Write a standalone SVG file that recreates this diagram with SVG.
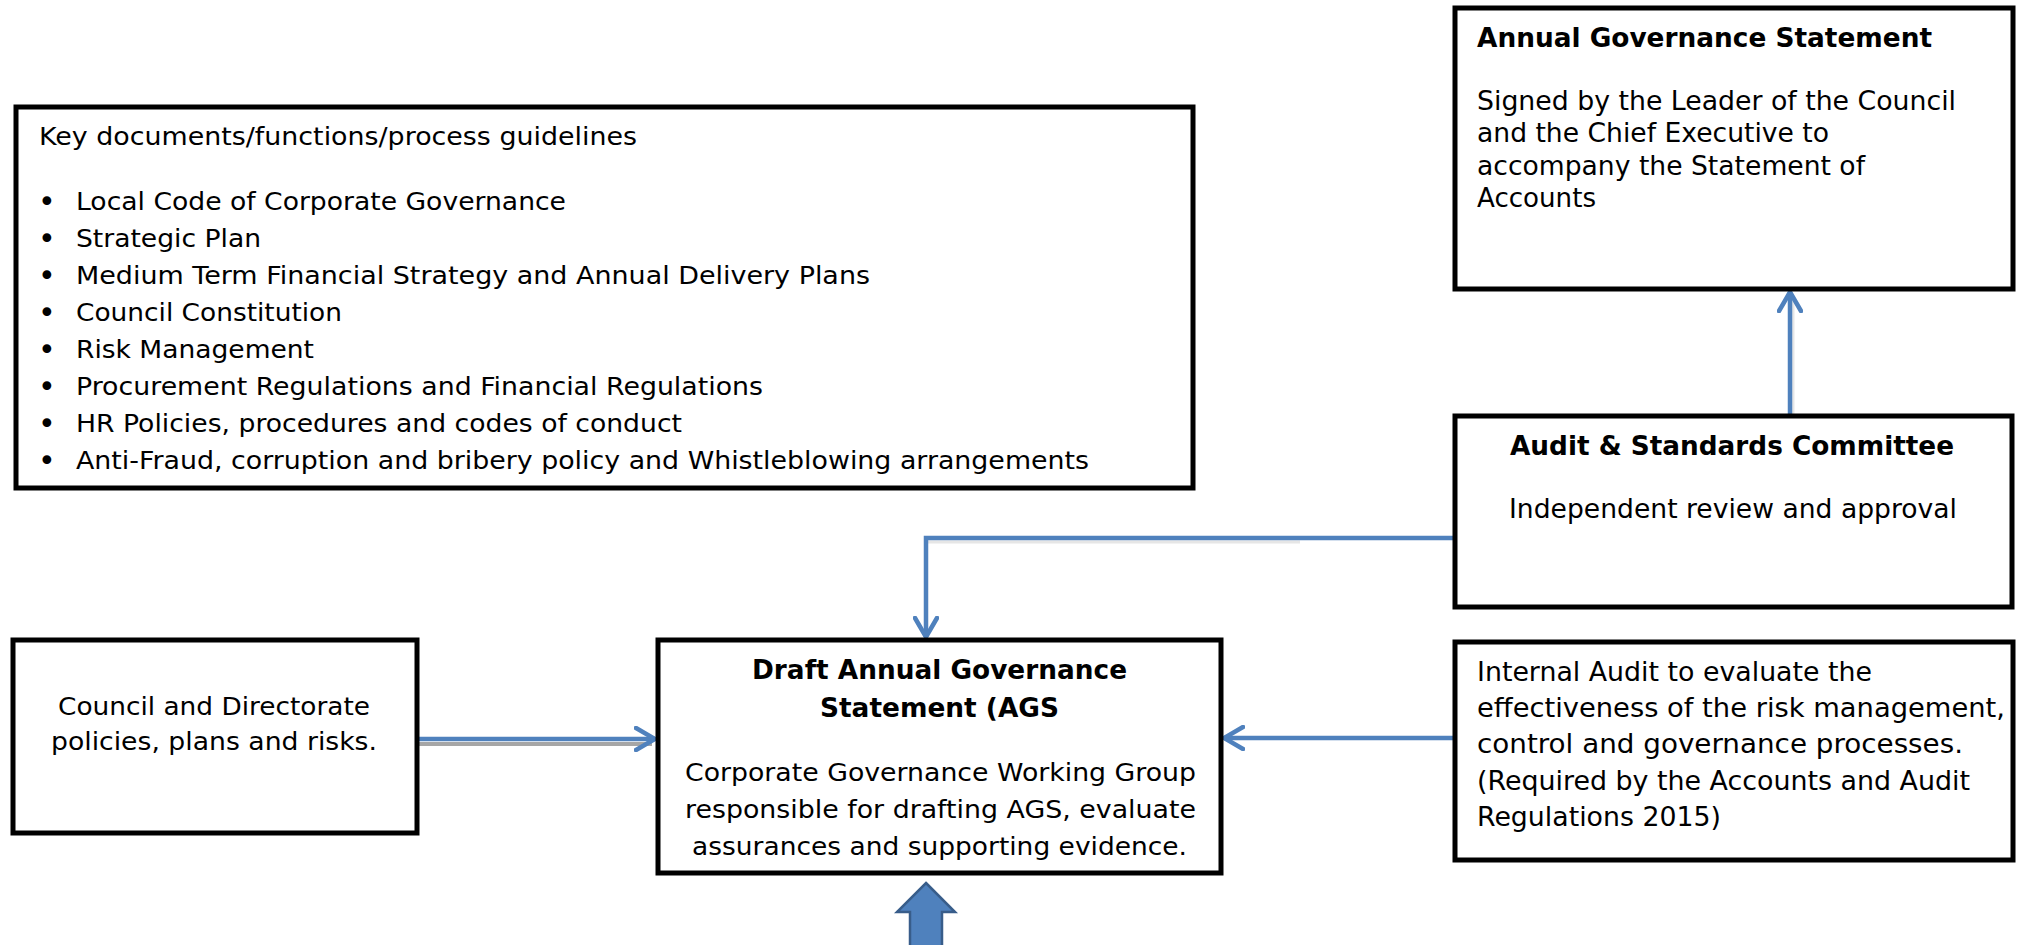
<svg xmlns="http://www.w3.org/2000/svg" width="2022" height="945" viewBox="0 0 2022 945">
<style>
.box{fill:#fff;stroke:#000;stroke-width:5}
.t{font-family:"DejaVu Sans","Liberation Sans",sans-serif;fill:#000}
.c{font-size:25px}
.r{font-size:26px}
.b{font-weight:bold}
.bul{font-size:30px}
.conn{fill:none;stroke:#4F81BD;stroke-width:4.5}
.shadow{fill:none;stroke:#A6A6A6;stroke-width:4}
.lshadow{fill:none;stroke:#E6E6E6;stroke-width:3}
</style>
<defs>
<marker id="chev" viewBox="0 0 24 26" refX="21" refY="13" markerWidth="24" markerHeight="26" markerUnits="userSpaceOnUse" orient="auto">
<path d="M2,2 L21,13 L2,24" fill="none" stroke="#4F81BD" stroke-width="4.5" stroke-linecap="round" stroke-linejoin="miter"/>
</marker>
</defs>
<rect width="2022" height="945" fill="#fff"/>

<g id="connectors">
<line class="lshadow" x1="1793" y1="414" x2="1793" y2="300"/>
<line class="lshadow" x1="928" y1="542" x2="1300" y2="542"/>
<line class="shadow" x1="417" y1="744" x2="652" y2="744"/>
<line class="conn" x1="1790" y1="414" x2="1790" y2="292" marker-end="url(#chev)"/>
<polyline class="conn" points="1453,538 926,538 926,637" marker-end="url(#chev)"/>
<line class="conn" x1="417" y1="739" x2="655" y2="739" marker-end="url(#chev)"/>
<line class="conn" x1="1453" y1="738" x2="1224" y2="738" marker-end="url(#chev)"/>
</g>

<g id="key-documents">
<rect class="box" x="16" y="107" width="1177" height="381"/>
<text class="t c" x="39" y="145" textLength="598" lengthAdjust="spacingAndGlyphs">Key documents/functions/process guidelines</text>
<g class="t bul">
<text x="38" y="212">•</text>
<text x="38" y="249">•</text>
<text x="38" y="286">•</text>
<text x="38" y="323">•</text>
<text x="38" y="360">•</text>
<text x="38" y="397">•</text>
<text x="38" y="434">•</text>
<text x="38" y="471">•</text>
</g>
<g class="t c">
<text x="76" y="210" textLength="490" lengthAdjust="spacingAndGlyphs">Local Code of Corporate Governance</text>
<text x="76" y="247" textLength="185" lengthAdjust="spacingAndGlyphs">Strategic Plan</text>
<text x="76" y="284" textLength="794" lengthAdjust="spacingAndGlyphs">Medium Term Financial Strategy and Annual Delivery Plans</text>
<text x="76" y="321" textLength="266" lengthAdjust="spacingAndGlyphs">Council Constitution</text>
<text x="76" y="358" textLength="238" lengthAdjust="spacingAndGlyphs">Risk Management</text>
<text x="76" y="395" textLength="687" lengthAdjust="spacingAndGlyphs">Procurement Regulations and Financial Regulations</text>
<text x="76" y="432" textLength="606" lengthAdjust="spacingAndGlyphs">HR Policies, procedures and codes of conduct</text>
<text x="76" y="469" textLength="1013" lengthAdjust="spacingAndGlyphs">Anti-Fraud, corruption and bribery policy and Whistleblowing arrangements</text>
</g>
</g>

<g id="annual-governance-statement">
<rect class="box" x="1455" y="8" width="558" height="281"/>
<text class="t r b" x="1477" y="47" textLength="455" lengthAdjust="spacingAndGlyphs">Annual Governance Statement</text>
<text class="t r" x="1477" y="110" textLength="479" lengthAdjust="spacingAndGlyphs">Signed by the Leader of the Council</text>
<text class="t r" x="1477" y="142" textLength="352" lengthAdjust="spacingAndGlyphs">and the Chief Executive to</text>
<text class="t r" x="1477" y="175" textLength="388" lengthAdjust="spacingAndGlyphs">accompany the Statement of</text>
<text class="t r" x="1477" y="207" textLength="119" lengthAdjust="spacingAndGlyphs">Accounts</text>
</g>

<g id="audit-standards-committee">
<rect class="box" x="1455" y="416" width="557" height="191"/>
<text class="t r b" x="1510" y="455" textLength="444" lengthAdjust="spacingAndGlyphs">Audit &amp; Standards Committee</text>
<text class="t r" x="1509" y="518" textLength="448" lengthAdjust="spacingAndGlyphs">Independent review and approval</text>
</g>

<g id="council-directorate">
<rect class="box" x="13" y="640" width="404" height="193"/>
<text class="t c" x="58" y="715" textLength="312" lengthAdjust="spacingAndGlyphs">Council and Directorate</text>
<text class="t c" x="51" y="750" textLength="326" lengthAdjust="spacingAndGlyphs">policies, plans and risks.</text>
</g>

<g id="draft-ags">
<rect class="box" x="658" y="640" width="563" height="233"/>
<text class="t r b" x="752" y="679" textLength="375" lengthAdjust="spacingAndGlyphs">Draft Annual Governance</text>
<text class="t r b" x="820" y="717" textLength="239" lengthAdjust="spacingAndGlyphs">Statement (AGS</text>
<text class="t c" x="685" y="781" textLength="511" lengthAdjust="spacingAndGlyphs">Corporate Governance Working Group</text>
<text class="t c" x="685" y="818" textLength="511" lengthAdjust="spacingAndGlyphs">responsible for drafting AGS, evaluate</text>
<text class="t c" x="692" y="855" textLength="495" lengthAdjust="spacingAndGlyphs">assurances and supporting evidence.</text>
</g>

<g id="internal-audit">
<rect class="box" x="1455" y="642" width="558" height="218"/>
<text class="t r" x="1477" y="681" textLength="395" lengthAdjust="spacingAndGlyphs">Internal Audit to evaluate the</text>
<text class="t r" x="1477" y="717" textLength="528" lengthAdjust="spacingAndGlyphs">effectiveness of the risk management,</text>
<text class="t r" x="1477" y="753" textLength="486" lengthAdjust="spacingAndGlyphs">control and governance processes.</text>
<text class="t r" x="1477" y="790" textLength="493" lengthAdjust="spacingAndGlyphs">(Required by the Accounts and Audit</text>
<text class="t r" x="1477" y="826" textLength="244" lengthAdjust="spacingAndGlyphs">Regulations 2015)</text>
</g>

<g id="block-arrow">
<polygon points="926,883 955,912 942,912 942,952 910,952 910,912 897,912" fill="#4F81BD" stroke="#385D8A" stroke-width="2.5" stroke-linejoin="miter"/>
</g>
</svg>
